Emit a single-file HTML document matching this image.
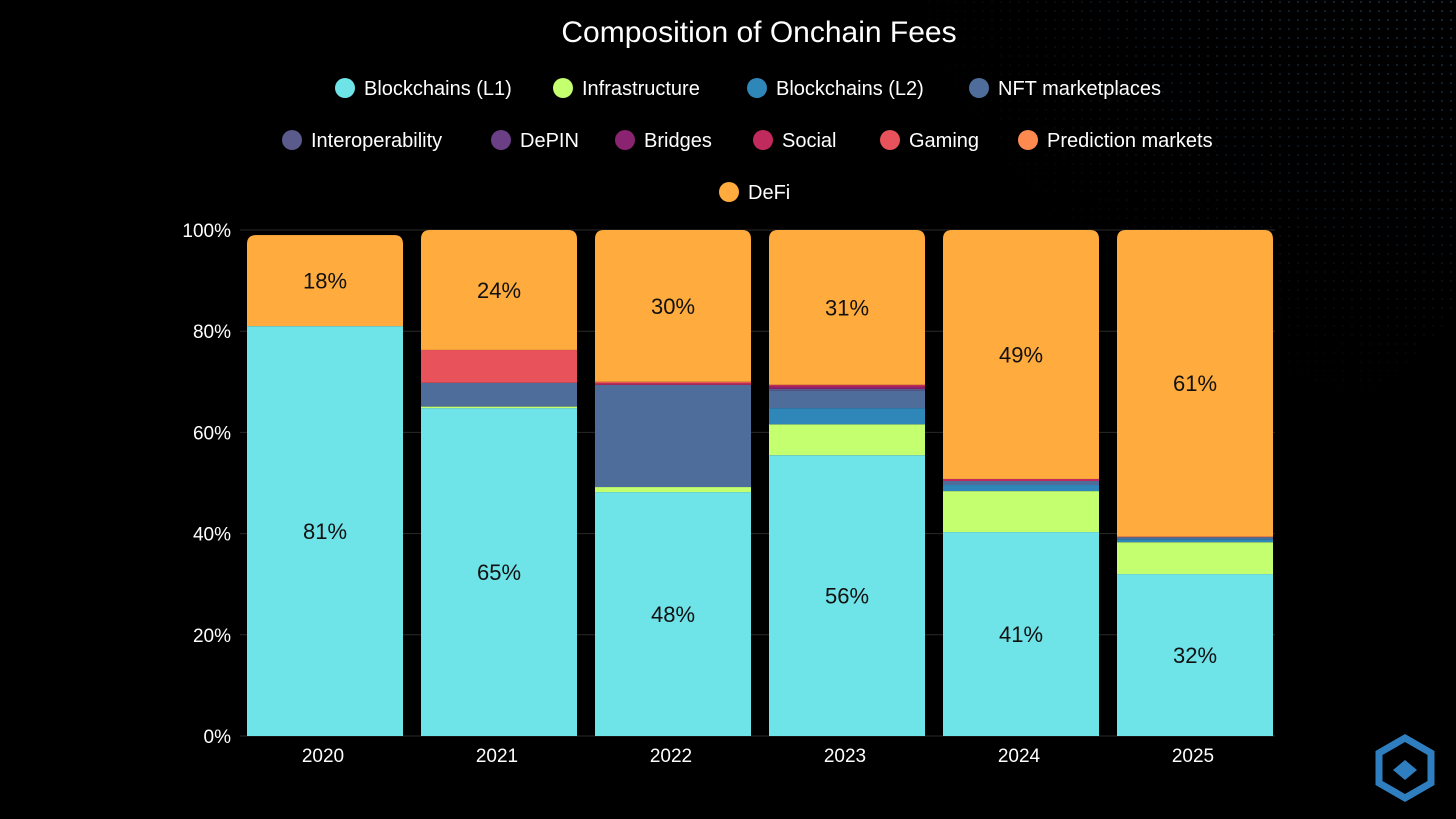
<!DOCTYPE html>
<html><head><meta charset="utf-8"><style>
body{margin:0;background:#000;width:1456px;height:819px;overflow:hidden;font-family:"Liberation Sans",sans-serif}
svg{display:block}
</style></head><body>
<svg id="c" width="1456" height="819" xmlns="http://www.w3.org/2000/svg">
<defs>
<pattern id="dots" width="9" height="9" patternUnits="userSpaceOnUse"><circle cx="2" cy="2" r="1" fill="#3f7fb0"/></pattern>
<radialGradient id="fade" cx="1" cy="0" r="1"><stop offset="0" stop-color="#fff" stop-opacity="0.9"/><stop offset="1" stop-color="#fff" stop-opacity="0"/></radialGradient>
<mask id="m"><circle cx="1180" cy="110" r="340" fill="url(#fade)"/></mask>
</defs>
<rect x="760" y="0" width="696" height="460" fill="url(#dots)" mask="url(#m)" opacity="0.7"/>
<text x="759" y="42" fill="#fff" font-size="30" text-anchor="middle">Composition of Onchain Fees</text>
<g id="legend"></g><g id="grid"></g><g id="bars"></g>
<g transform="translate(1405,768)">
<polygon points="0,-30 26,-15 26,15 0,30 -26,15 -26,-15" fill="none" stroke="#2f7fc0" stroke-width="7"/>
<path d="M-12,2 L0,-8 L12,2 L0,12 Z" fill="#2f7fc0"/>
</g>
</svg>
<script>
const categories=["2020","2021","2022","2023","2024","2025"];
const seriesNames=["Blockchains (L1)","Infrastructure","Blockchains (L2)","NFT marketplaces","Interoperability","DePIN","Bridges","Social","Gaming","Prediction markets","DeFi"];
const l1=[81,64.8,48.2,55.5,40.3,32];
const infra=[0,0.3,1,6.1,8.1,6.3];
const l2=[0,0,0,3.2,1.2,0.6];
const nft=[0,4.7,20.2,3.4,0.8,0.4];
const interop=[0,0,0,0.4,0,0];
const depin=[0,0,0,0,0,0];
const bridges=[0,0,0,0.4,0,0];
const social=[0,0,0.3,0.4,0.4,0];
const gaming=[0,6.5,0.3,0,0,0];
const prediction=[0,0,0,0,0,0.2];
const defi=[18,23.7,30,30.6,49.2,60.5];
const labelL1=["81%","65%","48%","56%","41%","32%"];
const labelDefi=["18%","24%","30%","31%","49%","61%"];
const yTicks=[0,20,40,60,80,100];
const colors=["#6ee3e8","#c3ff6e","#2f86b8","#4f6d9a","#5a5a8c","#6a3f86","#8a2470","#c02a5c","#e8525a","#ff8a50","#ffab3d"];
const series=[l1,infra,l2,nft,interop,depin,bridges,social,gaming,prediction,defi];
const NS="http://www.w3.org/2000/svg";
const y=v=>736-v*5.06;
const x=i=>247+i*174;
const BW=156;
function mk(t,a,p){const e=document.createElementNS(NS,t);for(const k in a)e.setAttribute(k,a[k]);p.appendChild(e);return e;}
const G=document.getElementById('grid'),B=document.getElementById('bars'),L=document.getElementById('legend');
yTicks.forEach(t=>{
 const l=mk('line',{x1:240,x2:1275,y1:y(t),y2:y(t),stroke:'#2a2a2a','stroke-width':1},G);
 
 
 const tx=mk('text',{x:231,y:y(t)+7,fill:'#fff','font-size':19,'text-anchor':'end'},G);tx.textContent=t+'%';
 
 
});
categories.forEach((c,i)=>{
 let acc=0;const segs=[];
 series.forEach((s,k)=>{const v=s[i];if(v>0)segs.push([k,acc,v]);acc+=v;});
 const top=y(acc);
 const cp=mk('clipPath',{id:'cp'+i},B);
 mk('path',{d:`M${x(i)},736 V${top+9} Q${x(i)},${top} ${x(i)+9},${top} H${x(i)+BW-9} Q${x(i)+BW},${top} ${x(i)+BW},${top+9} V736 Z`},cp);
 const g=mk('g',{'clip-path':`url(#cp${i})`},B);
 
 
 segs.forEach(([k,a,v])=>{
  const r=mk('rect',{x:x(i),width:BW,y:y(a+v),height:v*5.06,fill:colors[k]},g);
  
  
 });
 const t1=mk('text',{x:x(i)+BW/2,y:y(l1[i]/2)+8,fill:'#111','font-size':22,'text-anchor':'middle'},B);t1.textContent=labelL1[i];
 
 
 const d0=acc-defi[i];
 const t2=mk('text',{x:x(i)+BW/2,y:y(d0+defi[i]/2)+8,fill:'#111','font-size':22,'text-anchor':'middle'},B);t2.textContent=labelDefi[i];
 
 
 const xl=mk('text',{x:x(i)+BW/2-2,y:762,fill:'#fff','font-size':19,'text-anchor':'middle'},B);xl.textContent=c;
 
 
});
const legPos=[[345,88],[563,88],[757,88],[979,88],[292,140],[501,140],[625,140],[763,140],[890,140],[1028,140],[729,192]];
seriesNames.forEach((n,k)=>{
 const [cx,cy]=legPos[k];
 const g=mk('g',{},L);
 
 
 mk('circle',{cx:cx,cy:cy,r:10,fill:colors[k]},g);
 const t=mk('text',{x:cx+19,y:cy+7,fill:'#fff','font-size':20},g);t.textContent=n;
});
</script>
</body></html>
